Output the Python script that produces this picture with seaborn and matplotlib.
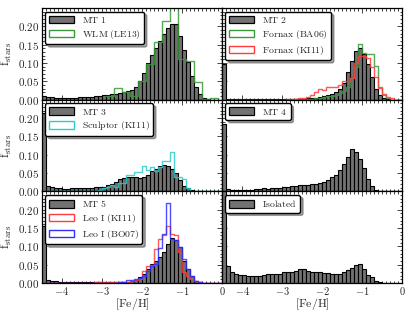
import numpy as np
import pandas as pd
import matplotlib
matplotlib.use('Agg')
import matplotlib.pyplot as plt
from matplotlib.patches import Patch
from matplotlib.ticker import MultipleLocator, FuncFormatter
import seaborn as sns

# bin edges, 0.1 dex from -4.5 to 0 (first bin holds the overflow)
edges = np.round(np.arange(-4.5, 0.001, 0.1), 2)
centers = (edges[:-1] + edges[1:]) / 2
# WLM comparison uses 0.2 dex bins
wlm_edges = np.round(np.arange(-2.9, -0.09, 0.2), 2)
wlm_centers = (wlm_edges[:-1] + wlm_edges[1:]) / 2

mt1 = [0.010, 0.008, 0.007, 0.006, 0.005, 0.005, 0.005, 0.006, 0.006, 0.007,
       0.008, 0.007, 0.008, 0.009, 0.010, 0.012, 0.014, 0.015, 0.016, 0.018,
       0.021, 0.024, 0.027, 0.034, 0.050, 0.073, 0.100, 0.122, 0.142, 0.160,
       0.178, 0.195, 0.206, 0.206, 0.175, 0.137, 0.102, 0.066, 0.036, 0.016,
       0.005, 0.001, 0.0, 0.0, 0.0]
wlm_le13 = [0.010, 0.033, 0.021, 0.010, 0.050, 0.097, 0.157, 0.215, 0.265,
            0.110, 0.105, 0.048, 0.002, 0.005]

mt2 = [0.097, 0.002, 0.002, 0.001, 0.001, 0.001, 0.001, 0.001, 0.001, 0.001,
       0.001, 0.001, 0.001, 0.001, 0.002, 0.002, 0.002, 0.002, 0.002, 0.002,
       0.003, 0.004, 0.005, 0.006, 0.008, 0.010, 0.013, 0.017, 0.022, 0.030,
       0.045, 0.075, 0.105, 0.133, 0.142, 0.125, 0.098, 0.062, 0.030, 0.013,
       0.005, 0.002, 0.0, 0.0, 0.0]
fornax_ba06 = [0.0, 0.0, 0.0, 0.0, 0.0, 0.0, 0.0, 0.0, 0.0, 0.0,
               0.0, 0.0, 0.0, 0.0, 0.0, 0.0, 0.0, 0.0, 0.001, 0.002,
               0.002, 0.003, 0.003, 0.005, 0.006, 0.008, 0.010, 0.011, 0.012, 0.018,
               0.025, 0.035, 0.060, 0.090, 0.153, 0.128, 0.125, 0.125, 0.092, 0.034,
               0.012, 0.004, 0.0, 0.0, 0.0]
fornax_ki11 = [0.0, 0.0, 0.0, 0.0, 0.0, 0.0, 0.0, 0.0, 0.0, 0.0,
               0.0, 0.0, 0.0, 0.0, 0.0, 0.0, 0.001, 0.002, 0.003, 0.004,
               0.006, 0.008, 0.012, 0.020, 0.030, 0.026, 0.036, 0.035, 0.036, 0.040,
               0.050, 0.050, 0.060, 0.100, 0.118, 0.120, 0.113, 0.090, 0.062, 0.032,
               0.015, 0.008, 0.004, 0.0, 0.0]

mt3 = [0.213, 0.014, 0.011, 0.009, 0.008, 0.007, 0.007, 0.008, 0.008, 0.009,
       0.009, 0.010, 0.010, 0.011, 0.012, 0.013, 0.016, 0.020, 0.026, 0.033,
       0.036, 0.038, 0.038, 0.038, 0.037, 0.040, 0.045, 0.055, 0.062, 0.070,
       0.072, 0.068, 0.060, 0.050, 0.030, 0.015, 0.008, 0.004, 0.002, 0.001,
       0.0, 0.0, 0.0, 0.0, 0.0]
sculptor_ki11 = [0.0, 0.0, 0.0, 0.0, 0.0, 0.0, 0.0, 0.0, 0.0, 0.0,
                 0.0, 0.0, 0.0, 0.0, 0.003, 0.008, 0.012, 0.018, 0.012, 0.022,
                 0.022, 0.046, 0.046, 0.052, 0.052, 0.069, 0.057, 0.066, 0.055, 0.066,
                 0.084, 0.084, 0.108, 0.040, 0.040, 0.034, 0.009, 0.002, 0.0, 0.0,
                 0.0, 0.0, 0.0, 0.0, 0.0]

mt4 = [0.185, 0.006, 0.004, 0.003, 0.003, 0.003, 0.004, 0.005, 0.006, 0.006,
       0.008, 0.007, 0.009, 0.009, 0.010, 0.012, 0.012, 0.015, 0.015, 0.016,
       0.018, 0.018, 0.019, 0.020, 0.023, 0.026, 0.030, 0.038, 0.046, 0.059,
       0.075, 0.094, 0.115, 0.107, 0.089, 0.064, 0.034, 0.015, 0.005, 0.001,
       0.0, 0.0, 0.0, 0.0, 0.0]

mt5 = [0.155, 0.008, 0.006, 0.005, 0.004, 0.003, 0.003, 0.003, 0.003, 0.002,
       0.002, 0.002, 0.002, 0.003, 0.003, 0.003, 0.003, 0.003, 0.004, 0.004,
       0.004, 0.004, 0.006, 0.009, 0.016, 0.025, 0.039, 0.052, 0.061, 0.070,
       0.084, 0.107, 0.124, 0.117, 0.098, 0.061, 0.039, 0.018, 0.006, 0.002,
       0.0, 0.0, 0.0, 0.0, 0.0]
leo_ki11 = [0.0, 0.0, 0.0, 0.0, 0.0, 0.0, 0.0, 0.0, 0.0, 0.0,
            0.0, 0.001, 0.001, 0.002, 0.002, 0.002, 0.002, 0.002, 0.002, 0.002,
            0.003, 0.004, 0.005, 0.007, 0.011, 0.032, 0.046, 0.048, 0.094, 0.120,
            0.130, 0.155, 0.133, 0.130, 0.085, 0.030, 0.018, 0.010, 0.005, 0.002,
            0.0, 0.0, 0.0, 0.0, 0.0]
leo_bo07 = [0.0, 0.0, 0.0, 0.0, 0.0, 0.0, 0.0, 0.0, 0.0, 0.0,
            0.0, 0.0, 0.0, 0.0, 0.0, 0.0, 0.0, 0.0, 0.001, 0.002,
            0.004, 0.008, 0.008, 0.010, 0.013, 0.018, 0.034, 0.046, 0.052, 0.095,
            0.135, 0.217, 0.121, 0.117, 0.098, 0.066, 0.039, 0.018, 0.006, 0.002,
            0.0, 0.0, 0.0, 0.0, 0.0]

isolated = [0.270, 0.046, 0.029, 0.025, 0.022, 0.022, 0.018, 0.018, 0.018, 0.018,
            0.022, 0.024, 0.024, 0.024, 0.025, 0.029, 0.031, 0.031, 0.033, 0.037,
            0.037, 0.033, 0.031, 0.031, 0.029, 0.028, 0.028, 0.025, 0.024, 0.024,
            0.031, 0.036, 0.042, 0.050, 0.051, 0.039, 0.022, 0.016, 0.006, 0.003,
            0.001, 0.0, 0.0, 0.0, 0.0]

# panel: (main label, main values, [(label, values, color, centers, edges), ...])
panels = [
    ('MT 1', mt1, [('WLM (LE13)', wlm_le13, '#3a9a3a', wlm_centers, wlm_edges)]),
    ('MT 2', mt2, [('Fornax (BA06)', fornax_ba06, '#3a9a3a', centers, edges),
                   ('Fornax (KI11)', fornax_ki11, '#ff3b3b', centers, edges)]),
    ('MT 3', mt3, [('Sculptor (KI11)', sculptor_ki11, '#2ccccc', centers, edges)]),
    ('MT 4', mt4, []),
    ('MT 5', mt5, [('Leo I (KI11)', leo_ki11, '#ff3b3b', centers, edges),
                   ('Leo I (BO07)', leo_bo07, '#3030ff', centers, edges)]),
    ('Isolated', isolated, []),
]

sns.set_style('ticks')
plt.rcParams['mathtext.fontset'] = 'cm'
plt.rcParams['font.family'] = ['DejaVu Serif']

bar_color = '#727272'

fig, axes = plt.subplots(3, 2, figsize=(4.15, 3.12), dpi=100, sharex=True, sharey=True)
fig.subplots_adjust(left=0.101, right=0.969, top=0.974, bottom=0.093, hspace=0, wspace=0)


def tex(s):
    return r'$\mathrm{' + s.replace(' ', r'\ ') + '}$'


for k, (name, vals, others) in enumerate(panels):
    row, col = divmod(k, 2)
    ax = axes[row, col]
    df = pd.DataFrame({'feh': centers, 'frac': vals})
    sns.histplot(data=df, x='feh', weights='frac', bins=list(edges), element='bars',
                 color=bar_color, edgecolor='k', linewidth=0.8, alpha=1, ax=ax)
    handles = [Patch(facecolor=bar_color, edgecolor='k', linewidth=0.9, label=tex(name))]
    for lab, v, c, cx, ed in others:
        odf = pd.DataFrame({'feh': cx, 'frac': v})
        sns.histplot(data=odf, x='feh', weights='frac', bins=list(ed), element='step',
                     fill=False, color=c, linewidth=1.0, alpha=0.85, ax=ax)
        handles.append(Patch(facecolor='none', edgecolor=c, linewidth=1.0, label=tex(lab)))
    ax.legend(handles=handles, loc='upper left', fontsize=7, fancybox=True,
              shadow=True, framealpha=1, edgecolor='k', handlelength=2.6,
              handleheight=0.8, borderaxespad=0.35, labelspacing=0.3,
              borderpad=0.35)
    ax.set_xlim(-4.5, 0)
    ax.set_ylim(0, 0.25)
    ax.xaxis.set_major_locator(MultipleLocator(1))
    ax.xaxis.set_minor_locator(MultipleLocator(0.1))
    ax.yaxis.set_major_locator(MultipleLocator(0.05))
    ax.yaxis.set_minor_locator(MultipleLocator(0.01))
    ax.tick_params(which='both', direction='in', top=True, right=True,
                   labelsize=8, pad=2, width=0.6)
    ax.tick_params(axis='x', pad=1.5, labelsize=7.5)
    ax.tick_params(which='major', length=3.5)
    ax.tick_params(which='minor', length=1.8)
    for s in ax.spines.values():
        s.set_linewidth(0.9)
        s.set_color('k')
    ax.set_ylabel('')
    ax.set_xlabel('')
    ax.tick_params(labelleft=(col == 0), labelbottom=(row == 2))
    if col == 0:
        ax.set_ylabel(r'$\mathrm{f}_{\mathrm{stars}}$', fontsize=9, labelpad=3)
    if row == 2:
        ax.set_xlabel(r'$\mathrm{[Fe/H]}$', fontsize=8.5, labelpad=-1)

top_fmt = FuncFormatter(lambda v, p: r'$%.2f$' % v)
low_fmt = FuncFormatter(lambda v, p: '' if v > 0.24 else r'$%.2f$' % v)
x_fmt = FuncFormatter(lambda v, p: r'$%d$' % round(v))
for row in range(3):
    axes[row, 0].yaxis.set_major_formatter(top_fmt if row == 0 else low_fmt)
for col in range(2):
    axes[2, col].xaxis.set_major_formatter(x_fmt)

plt.savefig('out.png', dpi=100)
